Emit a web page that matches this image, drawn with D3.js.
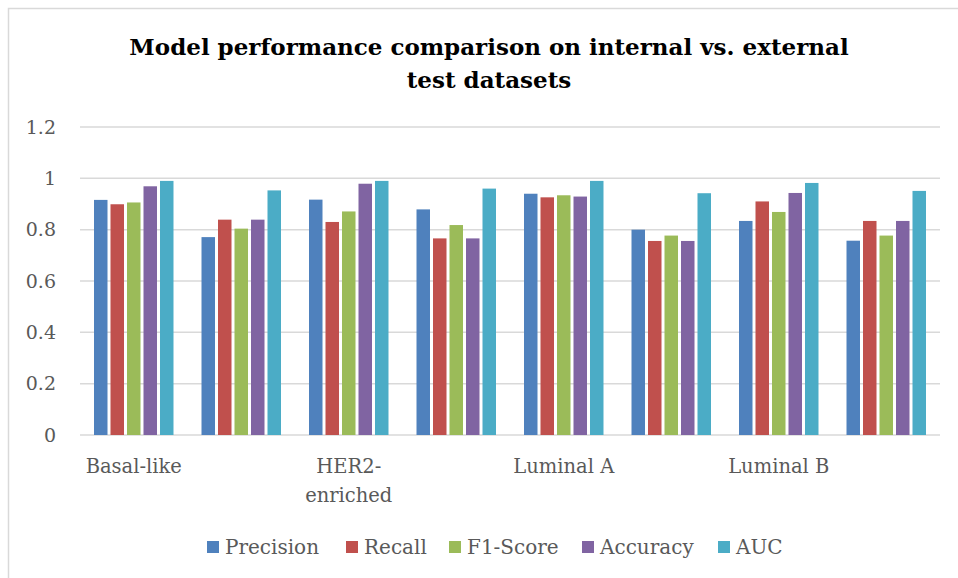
<!DOCTYPE html>
<html>
<head>
<meta charset="utf-8">
<script src="https://cdn.jsdelivr.net/npm/d3@7"></script>
<style>
  body { margin: 0; background: #fff; }
  svg { display: block; font-family: "DejaVu Serif", serif; }
</style>
</head>
<body>
<div id="chart"></div>
<script>
// subtypes, each tested on an internal and an external dataset
const groups = [
  'Basal-like|int', 'Basal-like|ext',
  'HER2-enriched|int', 'HER2-enriched|ext',
  'Luminal A|int', 'Luminal A|ext',
  'Luminal B|int', 'Luminal B|ext'
];
const metrics = ['Precision', 'Recall', 'F1-Score', 'Accuracy', 'AUC'];
const colors = ['#4F81BD', '#C0504D', '#9BBB59', '#8064A2', '#4BACC6'];
const yTicks = [0, 0.2, 0.4, 0.6, 0.8, 1, 1.2];

// values per group, in groups order
const precision = [0.916, 0.771, 0.917, 0.879, 0.940, 0.800, 0.834, 0.757];
const recall    = [0.899, 0.839, 0.830, 0.766, 0.926, 0.756, 0.910, 0.834];
const f1score   = [0.906, 0.804, 0.871, 0.818, 0.934, 0.777, 0.869, 0.777];
const accuracy  = [0.969, 0.839, 0.979, 0.766, 0.929, 0.756, 0.943, 0.834];
const auc       = [0.990, 0.953, 0.990, 0.960, 0.990, 0.942, 0.982, 0.951];

const seriesValues = [precision, recall, f1score, accuracy, auc];

const W = 958, H = 578;
const margin = { top: 127, right: 18, bottom: 143, left: 80 };
const innerW = W - margin.left - margin.right;
const innerH = H - margin.top - margin.bottom;

const svg = d3.select('#chart').append('svg')
  .attr('width', W)
  .attr('height', H);

// chart frame
svg.append('rect')
  .attr('x', 8.5).attr('y', 8.5)
  .attr('width', W + 10).attr('height', H + 10)
  .style('fill', 'none')
  .style('stroke', '#d9d9d9')
  .style('stroke-width', 1.5);

// title
const title = svg.append('text')
  .attr('text-anchor', 'middle')
  .style('font-size', '23px')
  .style('font-weight', 'bold')
  .style('fill', '#000');
title.append('tspan').attr('x', 489).attr('y', 55)
  .text('Model performance comparison on internal vs. external');
title.append('tspan').attr('x', 489).attr('y', 88)
  .text('test datasets');

const g = svg.append('g')
  .attr('transform', `translate(${margin.left},${margin.top})`);

const x0 = d3.scaleBand()
  .domain(groups)
  .range([0, innerW])
  .paddingInner(0.2326)
  .paddingOuter(0.1163);

const x1 = d3.scaleBand()
  .domain(metrics)
  .range([0, x0.bandwidth()]);

const y = d3.scaleLinear()
  .domain([0, 1.2])
  .range([innerH, 0]);

// gridlines
g.append('g')
  .selectAll('line')
  .data(yTicks)
  .join('line')
  .attr('x1', 0)
  .attr('x2', innerW)
  .attr('y1', d => y(d))
  .attr('y2', d => y(d))
  .style('stroke', '#d9d9d9')
  .style('stroke-width', 1.5);

// y axis labels
const yAxis = g.append('g')
  .call(d3.axisLeft(y).tickValues(yTicks).tickSize(0).tickPadding(24).tickFormat(d3.format('~g')));
yAxis.select('.domain').remove();
yAxis.selectAll('text')
  .style('font-family', '"DejaVu Serif", serif')
  .style('font-size', '19px')
  .style('fill', '#595959');

// bars
const groupG = g.append('g')
  .selectAll('g')
  .data(groups)
  .join('g')
  .attr('transform', d => `translate(${x0(d)},0)`);

groupG.selectAll('rect')
  .data((d, gi) => metrics.map((m, mi) => ({ m, mi, v: seriesValues[mi][gi] })))
  .join('rect')
  .attr('x', d => x1(d.m) + 1.5)
  .attr('width', x1.bandwidth() - 3)
  .attr('y', d => y(d.v))
  .attr('height', d => y(0) - y(d.v))
  .style('fill', d => colors[d.mi]);

// x axis labels: subtype name shown under the internal group only
const xAxis = g.append('g')
  .attr('transform', `translate(0,${innerH})`)
  .call(d3.axisBottom(x0).tickSize(0).tickFormat(() => ''));
xAxis.select('.domain').remove();
xAxis.selectAll('.tick text').each(function (d) {
  const [name, set] = d.split('|');
  if (set !== 'int') return;
  const t = d3.select(this)
    .attr('y', 0)
    .attr('dy', null)
    .style('font-family', '"DejaVu Serif", serif')
    .style('font-size', '19.5px')
    .style('fill', '#595959');
  const lines = name === 'HER2-enriched' ? ['HER2-', 'enriched'] : [name];
  lines.forEach((ln, i) => {
    t.append('tspan').attr('x', 0).attr('y', 38 + i * 29).text(ln);
  });
});

// legend
const legend = svg.append('g').attr('transform', 'translate(0,547)');
const legendX = [207, 346, 449, 582, 718];
const item = legend.selectAll('g')
  .data(metrics)
  .join('g')
  .attr('transform', (d, i) => `translate(${legendX[i]},0)`);
item.append('rect')
  .attr('x', 0).attr('y', -6)
  .attr('width', 12).attr('height', 12)
  .style('fill', (d, i) => colors[i]);
item.append('text')
  .attr('x', 18)
  .attr('y', 7)
  .style('font-size', '20px')
  .style('fill', '#595959')
  .text(d => d);
</script>
</body>
</html>
